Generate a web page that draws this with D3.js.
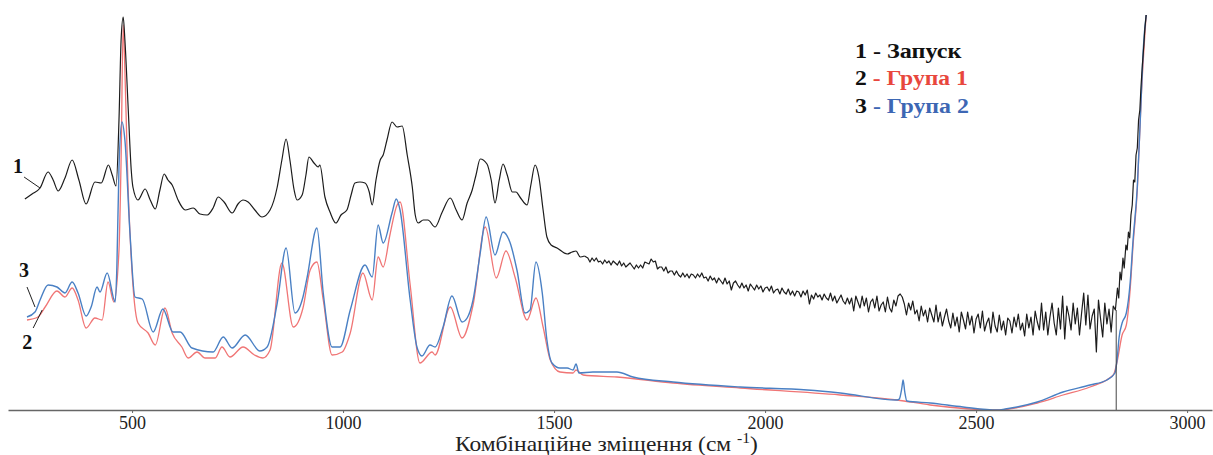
<!DOCTYPE html>
<html>
<head>
<meta charset="utf-8">
<script src="https://cdn.jsdelivr.net/npm/d3@7"></script>
<style>
  body { margin: 0; background: #fff; }
  svg { display: block; }
</style>
</head>
<body>
<div id="chart"></div>
<script>
// Raman shift (cm-1) and intensity (a.u.)
const shiftTicks = [500, 1000, 1500, 2000, 2500, 3000];
const seriesNames = ['Запуск', 'Група 1', 'Група 2'];

// 1 - Запуск (black)
const launchSpectrum = [
  [246,211],[263,216],[282,222],[301,238],[313,230],[325,219],[341,232],[358,250],[374,230],[391,206],
  [412,228],[427,227],[444,245],[453,235],[462,224],[469,290],[474,370],[479,393],[483,370],[491,300],
  [498,240],[502,223],[514,210],[531,221],[543,210],[555,201],[566,220],[576,236],[585,230],[595,225],
  [609,210],[626,200],[645,202],[661,196],[678,195],[692,202],[704,213],[718,208],[737,197],[751,206],
  [763,210],[775,208],[791,200],[808,193],[827,200],[844,223],[855,250],[865,271],[874,250],[884,220],
  [891,210],[903,215],[912,235],[919,253],[931,247],[941,243],[945,245],[957,213],[969,198],[983,187],
  [995,195],[1009,200],[1019,215],[1028,227],[1040,228],[1052,227],[1062,218],[1069,205],[1078,230],[1088,250],
  [1095,255],[1104,270],[1116,288],[1128,283],[1140,284],[1152,255],[1164,223],[1171,195],[1178,187],[1190,190],
  [1201,190],[1218,183],[1235,198],[1254,212],[1268,200],[1282,190],[1294,207],[1306,220],[1315,235],[1325,251],
  [1341,246],[1351,230],[1360,207],[1370,230],[1379,246],[1389,235],[1401,218],[1410,218],[1419,213],[1436,205],
  [1445,225],[1455,245],[1464,233],[1474,200],[1483,173],[1493,165],[1507,162],[1531,156],[1543,158],[1552,159],
  [1562,153],[1572,154],
  [1580,152],[1585,148],[1590,152],[1595,149],[1600,152],[1605,148],[1610,149],[1615,146],[1620,150],[1625,147],
  [1630,149],[1635,145],[1640,149],[1645,147],[1650,145],[1655,149],[1660,144],[1665,147],[1670,143],[1675,145],
  [1680,147],[1685,144],[1690,141],[1695,145],[1700,142],[1705,145],[1710,142],[1715,148],[1720,147],[1725,146],
  [1730,151],[1735,148],[1740,149],[1745,141],[1750,143],[1755,143],[1760,139],[1765,143],[1770,137],[1775,139],
  [1780,139],[1785,135],[1790,139],[1795,135],[1800,133],[1805,137],[1810,133],[1815,136],[1820,132],[1825,136],
  [1830,135],[1835,132],[1840,136],[1845,133],[1850,137],[1855,132],[1860,133],[1865,129],[1870,134],[1875,130],
  [1880,132],[1885,127],[1890,132],[1895,129],[1900,126],[1905,132],[1910,126],[1915,129],[1920,120],[1925,127],
  [1930,129],[1935,125],[1940,122],[1945,127],[1950,122],[1955,125],[1960,119],[1965,126],[1970,123],[1975,120],
  [1980,125],[1985,121],[1990,124],[1995,118],[2000,122],[2005,123],[2010,119],[2015,124],[2020,117],[2025,120],
  [2030,121],[2035,116],[2040,122],[2045,118],[2050,116],[2055,121],[2060,115],[2065,119],[2070,114],[2075,119],
  [2080,118],[2085,113],[2090,119],[2095,115],[2100,120],[2105,106],[2110,115],[2115,111],[2120,117],[2125,113],
  [2130,115],[2135,110],[2140,116],[2145,112],[2150,110],[2155,117],[2160,109],[2165,114],[2170,107],[2175,111],
  [2180,115],[2185,109],[2190,106],[2195,112],[2200,106],[2205,112],[2210,99],[2215,114],[2220,108],[2225,102],
  [2230,114],[2235,104],[2240,112],[2245,98],[2250,108],[2255,111],[2260,102],[2265,114],[2270,99],[2275,105],
  [2280,108],[2285,98],[2290,113],[2295,102],[2300,98],[2305,110],[2310,104],[2315,114],[2320,116],[2325,113],
  [2330,106],[2335,95],[2340,107],[2345,100],[2350,109],[2355,96],[2360,100],[2365,89],[2370,104],[2375,94],
  [2380,100],[2385,88],[2390,102],[2395,95],[2400,88],[2405,105],[2410,88],[2415,98],[2420,84],[2425,93],
  [2430,101],[2435,89],[2440,82],[2445,97],[2450,84],[2455,93],[2460,78],[2465,98],[2470,90],[2475,81],
  [2480,98],[2485,85],[2490,94],[2495,77],[2500,91],[2505,96],[2510,82],[2515,99],[2520,79],[2525,87],
  [2530,92],[2535,77],[2540,98],[2545,84],[2550,78],[2555,95],[2560,80],[2565,89],[2570,75],[2575,92],
  [2580,89],[2585,77],[2590,93],[2595,83],[2600,96],[2605,80],[2610,87],[2615,74],[2620,96],[2625,82],
  [2630,93],[2635,75],[2640,99],[2645,88],[2650,80],[2655,107],[2660,80],[2665,98],[2670,75],[2675,93],
  [2680,107],[2685,87],[2690,75],[2695,102],[2700,81],[2705,114],[2710,71],[2715,104],[2720,94],[2725,80],
  [2730,107],[2735,86],[2740,102],[2745,75],[2750,97],[2755,117],[2760,85],[2765,115],[2770,81],[2775,94],
  [2780,101],[2785,58],[2790,110],[2795,91],[2800,73],[2805,107],[2810,86],[2815,101],[2820,78],[2825,104],
  [2830,100],[2835,122],[2838,112],[2841,138],[2844,130],[2848,152],[2851,142],[2855,165],[2858,160],[2861,178],
  [2864,172],[2867,195],[2870,205],[2873,230],[2876,228],[2879,255],[2882,262],[2885,290],[2888,300],[2891,325],
  [2894,345],[2897,362],[2900,382],[2903,395]
];

// 2 - Група 1 (red)
const group1Spectrum = [
  [251,90],[277,93],[294,103],[322,119],[341,113],[358,122],[372,110],[391,82],[412,92],[429,90],
  [443,128],[457,108],[469,160],[474,250],[479,385],[483,340],[490,230],[497,160],[514,87],[538,77],
  [555,65],[578,102],[595,77],[618,63],[633,52],[654,58],[673,52],[697,52],[713,63],[732,53],
  [763,63],[790,55],[810,52],[827,60],[855,147],[882,83],[905,102],[922,140],[938,148],[953,110],
  [974,55],[998,58],[1017,77],[1047,137],[1069,110],[1083,153],[1095,143],[1111,175],[1128,205],[1135,208],
  [1159,125],[1182,47],[1211,58],[1218,55],[1254,103],[1282,72],[1308,105],[1337,183],[1363,132],[1386,159],
  [1408,132],[1436,90],[1457,112],[1474,83],[1491,50],[1514,38],[1545,37],[1552,40],[1569,35],[1649,33],
  [1782,27],[1941,22],[2178,15],[2313,10],[2391,5],[2550,0],[2645,7],[2706,15],[2770,23],[2825,35],
  [2834,48],[2846,75],[2856,85],[2865,120],[2872,165],[2882,220],[2891,310],[2903,395]
];

// 3 - Група 2 (blue)
const group2Spectrum = [
  [251,93],[270,98],[282,110],[301,125],[322,123],[341,117],[358,128],[372,117],[391,94],[403,103],
  [417,123],[424,118],[441,137],[460,108],[464,143],[469,243],[476,288],[483,270],[495,177],[507,113],
  [524,111],[550,78],[573,101],[597,78],[614,78],[642,62],[692,58],[716,73],[737,62],[768,75],
  [803,59],[820,63],[844,107],[865,162],[886,97],[905,113],[915,133],[938,182],[953,117],[974,63],
  [993,63],[1017,100],[1052,145],[1069,133],[1083,185],[1095,167],[1116,197],[1126,211],[1135,200],[1159,110],
  [1175,63],[1187,54],[1206,65],[1218,63],[1237,83],[1258,114],[1282,88],[1294,92],[1308,110],[1325,157],
  [1339,193],[1360,155],[1379,178],[1396,167],[1412,140],[1431,97],[1443,100],[1457,148],[1472,117],[1483,70],
  [1495,47],[1514,42],[1531,42],[1545,40],[1552,46],[1559,37],[1592,38],[1649,38],[1687,33],[1782,28],
  [1941,23],[2100,20],[2178,17],[2313,10],[2318,11],[2324,22],[2327,30],[2331,18],[2336,9],[2391,7],
  [2469,3],[2550,0],[2569,1],[2597,3],[2645,8],[2706,18],[2770,25],[2810,30],[2829,37],[2834,50],
  [2839,73],[2846,87],[2856,97],[2865,127],[2872,170],[2882,223],[2891,310],[2896,360],[2903,395]
];

// vertical cut marker on the launch spectrum
const cutoffShift = 2832;
const cutoffTop = 100;
// where the launch trace turns from smooth bands into noisy background
const noiseStart = 1572;

const width = 1213;
const height = 455;
const axisY = 410;

// pick an installed serif face (Times-like) by measuring against a fallback
function pickFont(candidates) {
  const ctx = document.createElement('canvas').getContext('2d');
  const probe = 'Комбінаційне 0123456789 mmwwlli';
  ctx.font = '40px monospace';
  const base = ctx.measureText(probe).width;
  for (const f of candidates) {
    ctx.font = `40px "${f}", monospace`;
    if (Math.abs(ctx.measureText(probe).width - base) > 0.5) return `"${f}", serif`;
  }
  return 'serif';
}
const serifFont = pickFont(['Liberation Serif', 'Times New Roman', 'Tinos', 'DejaVu Serif', 'Noto Serif', 'FreeSerif']);

const x = d3.scaleLinear().domain([206, 3059]).range([8, 1212]);
const y = d3.scaleLinear().domain([0, 400]).range([axisY, 10]);

const svg = d3.select('#chart')
  .append('svg')
  .attr('width', width)
  .attr('height', height);

const smoothLine = d3.line()
  .x(d => x(d[0]))
  .y(d => y(d[1]))
  .curve(d3.curveMonotoneX);

const rawLine = d3.line()
  .x(d => x(d[0]))
  .y(d => y(d[1]));

const series = [
  { data: group1Spectrum, color: '#f07575', width: 1.3, gen: smoothLine },
  { data: group2Spectrum, color: '#4a80c4', width: 1.4, gen: smoothLine },
  { data: launchSpectrum.filter(d => d[0] <= noiseStart), color: '#1c1c1c', width: 1.2, gen: smoothLine },
  { data: launchSpectrum.filter(d => d[0] >= noiseStart), color: '#1c1c1c', width: 1.2, gen: rawLine }
];

series.forEach(s => {
  svg.append('path')
    .datum(s.data)
    .attr('d', s.gen)
    .attr('fill', 'none')
    .attr('stroke', s.color)
    .attr('stroke-width', s.width)
    .attr('stroke-linejoin', 'round');
});

svg.append('line')
  .attr('x1', x(cutoffShift)).attr('x2', x(cutoffShift))
  .attr('y1', y(0)).attr('y2', y(cutoffTop))
  .attr('stroke', '#444')
  .attr('stroke-width', 1);

// x axis
const xAxis = d3.axisBottom(x)
  .tickValues(shiftTicks)
  .tickFormat(d3.format('d'))
  .tickSize(3)
  .tickSizeOuter(0)
  .tickPadding(3);

const gx = svg.append('g')
  .attr('transform', `translate(0,${axisY})`)
  .call(xAxis)
  .attr('font-family', serifFont)
  .attr('font-size', 18);

gx.select('.domain').attr('stroke', '#666').attr('stroke-width', 1.5);
gx.selectAll('.tick line').attr('stroke', '#666');
gx.selectAll('.tick text').attr('fill', '#222');

// squeeze/stretch a text horizontally to a target width, keeping its left edge
function fitWidth(sel, left, baseline, target) {
  const w = sel.node().getBBox().width;
  const k = target / w;
  sel.attr('transform', `translate(${left},${baseline}) scale(${k},1) translate(${-left},${-baseline})`);
}

const title = svg.append('text')
  .attr('x', 455)
  .attr('y', 451)
  .style('font-family', serifFont)
  .style('font-size', '21px')
  .attr('fill', '#222');
title.append('tspan').text('Комбінаційне зміщення (см ');
title.append('tspan').attr('dy', -8).style('font-size', '14px').text('-1');
title.append('tspan').attr('dy', 8).text(')');
fitWidth(title, 455, 451, 303);

// legend
const legendColors = ['#111', '#e8473d', '#3d67b4'];
const legendWidths = [107, 113, 114];
seriesNames.forEach((name, i) => {
  const by = 58 + i * 27.5;
  const t = svg.append('text')
    .attr('x', 855)
    .attr('y', by)
    .style('font-family', serifFont)
    .style('font-weight', 'bold')
    .style('font-size', '20px');
  t.append('tspan').attr('fill', '#111').text(`${i + 1} `);
  t.append('tspan').attr('fill', legendColors[i]).text(`- ${name}`);
  fitWidth(t, 855, by, legendWidths[i]);
});

// curve number labels with leader lines
function valueAt(data, shift) {
  const i = d3.bisector(d => d[0]).left(data, shift);
  return data[Math.min(i, data.length - 1)][1];
}

const curveLabels = [
  { text: '1', data: launchSpectrum, shift: 282, lift: 0, dx: -16, dy: -11, tx: -22, ty: -15 },
  { text: '3', data: group2Spectrum, shift: 270, lift: -5, dx: -8, dy: -20, tx: -11, ty: -30 },
  { text: '2', data: group1Spectrum, shift: 287, lift: 3, dx: -9, dy: 18, tx: -15, ty: 39 }
];

curveLabels.forEach(l => {
  const px = x(l.shift);
  const py = y(valueAt(l.data, l.shift)) + l.lift;
  svg.append('line')
    .attr('x1', px).attr('y1', py)
    .attr('x2', px + l.dx).attr('y2', py + l.dy)
    .attr('stroke', '#222')
    .attr('stroke-width', 1);
  svg.append('text')
    .attr('x', px + l.tx)
    .attr('y', py + l.ty)
    .attr('text-anchor', 'middle')
    .style('font-family', serifFont)
    .style('font-weight', 'bold')
    .style('font-size', '20px')
    .attr('fill', '#111')
    .text(l.text);
});
</script>
</body>
</html>
